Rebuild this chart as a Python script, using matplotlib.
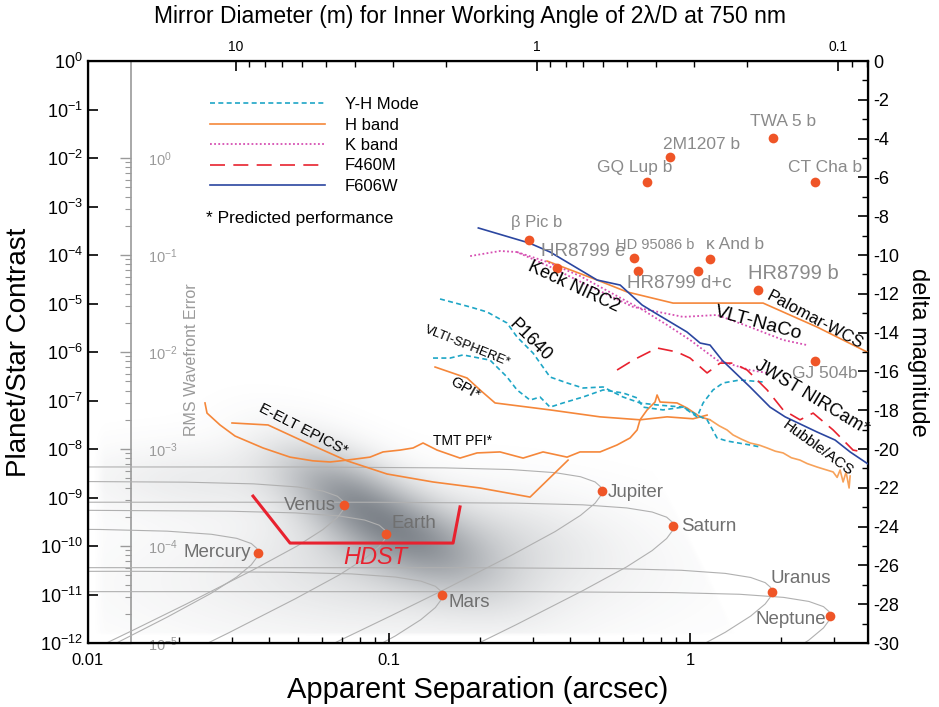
import numpy as np
import matplotlib
matplotlib.use("Agg")
import matplotlib.pyplot as plt
from matplotlib.lines import Line2D

plt.rcParams['font.family'] = ['Liberation Sans', 'DejaVu Sans']
plt.rcParams['mathtext.default'] = 'regular'
plt.rcParams['xtick.direction'] = 'in'
plt.rcParams['ytick.direction'] = 'in'

# ---- instrument contrast curves (separation in arcsec, contrast) ----
F606W_SEP = [0.198, 0.292, 0.343, 0.491, 0.586, 0.693, 0.765, 0.977, 1.080, 1.165,
             1.277, 1.582, 1.844, 2.069, 2.642, 3.032, 3.401, 3.903]
F606W_CON = [3.61e-4, 1.77e-4, 1.15e-4, 3.05e-5, 2.40e-5, 9.3e-6, 6.4e-6, 2.58e-6, 1.53e-6, 1.39e-6,
             6.8e-7, 1.90e-7, 7.3e-8, 4.6e-8, 2.24e-8, 1.53e-8, 8.7e-9, 4.9e-9]

KECK_H_SEP = [0.335, 0.491, 0.618, 0.878, 1.748, 2.642, 3.873]
KECK_H_CON = [7.5e-5, 3.05e-5, 1.73e-5, 1.02e-5, 1.02e-5, 3.27e-6, 1.0e-6]

NACO_K_SEP = [0.186, 0.234, 0.266, 0.343, 0.441, 0.647, 0.948, 1.229, 1.582, 2.037, 2.447]
NACO_K_CON = [9.5e-5, 1.21e-4, 1.15e-4, 5.7e-5, 2.65e-5, 8.5e-6, 5.3e-6, 5.8e-6, 3.27e-6, 1.77e-6, 1.39e-6]

KECK_K_SEP = [0.266, 0.335, 0.431, 0.698, 0.839, 1.0, 1.229, 1.582, 1.803]
KECK_K_CON = [1.15e-4, 7.2e-5, 3.69e-5, 7.3e-6, 3.6e-6, 1.77e-6, 6.8e-7, 4.25e-7, 3.7e-7]

F460M_SEP = [0.572, 0.647, 0.777, 0.905, 1.0, 1.139, 1.258, 1.389, 1.547, 1.803, 2.037,
             2.319, 2.563, 2.987, 3.479, 3.756]
F460M_CON = [4.25e-7, 6.8e-7, 1.21e-6, 1.0e-6, 7.5e-7, 3.7e-7, 5.9e-7, 5.9e-7, 4.25e-7, 1.65e-7, 6.4e-8,
             4.0e-8, 5.5e-8, 2.47e-8, 9.5e-9, 8.7e-9]

P1640_SEP = [0.1477, 0.1858, 0.2116, 0.2466, 0.2662, 0.3009, 0.3426, 0.3903, 0.441, 0.514,
             0.599, 0.682, 0.777, 0.948, 1.055, 1.105, 1.192, 1.287, 1.466, 1.748]
P1640_CON = [1.24e-5, 8.5e-6, 6.7e-6, 3.96e-6, 2.04e-6, 9.5e-7, 3.05e-7, 2.30e-7, 1.81e-7, 1.90e-7,
             1.18e-7, 8.9e-8, 8.1e-8, 7.3e-8, 4.6e-8, 8.9e-8, 1.65e-7, 2.30e-7, 2.65e-7, 2.41e-7]

SPHERE_SEP = [0.1400, 0.1595, 0.1761, 0.2165, 0.2466, 0.2662, 0.2941, 0.3174, 0.3426, 0.3785,
              0.441, 0.514, 0.599, 0.667, 0.698, 0.813, 0.948, 1.055, 1.139, 1.229, 1.327, 1.582, 1.708]
SPHERE_CON = [7.5e-7, 7.5e-7, 8.7e-7, 6.8e-7, 3.05e-7, 1.65e-7, 1.02e-7, 1.18e-7, 7.3e-8, 8.9e-8,
              1.18e-7, 1.65e-7, 1.43e-7, 1.13e-7, 7.3e-8, 6.4e-8, 7.3e-8, 5.0e-8, 4.0e-8, 1.69e-8,
              1.46e-8, 1.21e-8, 1.10e-8]

GPI_SEP = [0.1422, 0.1816, 0.2006, 0.2250, 0.3426, 0.5023, 0.682, 0.839, 1.023, 1.139]
GPI_CON = [4.9e-7, 2.91e-7, 1.65e-7, 8.9e-8, 6.4e-8, 4.6e-8, 4.0e-8, 4.6e-8, 4.2e-8, 5.0e-8]

TMT_SEP = [0.02447, 0.02485, 0.02745, 0.03079, 0.03815, 0.04689, 0.05591, 0.06368, 0.07253, 0.08647,
           0.0955, 0.1088, 0.1202, 0.1297, 0.1444, 0.1721, 0.1961, 0.2337, 0.2788, 0.3248,
           0.3903, 0.431, 0.5023, 0.572, 0.632, 0.667, 0.682, 0.720, 0.765, 0.777,
           0.795, 0.905, 0.977, 1.080, 1.165]
TMT_CON = [8.9e-8, 5.5e-8, 3.13e-8, 1.85e-8, 1.05e-8, 6.8e-9, 5.7e-9, 5.4e-9, 5.9e-9, 6.8e-9,
           8.7e-9, 9.5e-9, 1.05e-8, 1.33e-8, 9.5e-9, 6.5e-9, 8.3e-9, 8.7e-9, 6.5e-9, 8.7e-9,
           6.8e-9, 8.7e-9, 8.7e-9, 1.21e-8, 1.69e-8, 2.47e-8, 4.0e-8, 6.4e-8, 9.3e-8, 1.30e-7,
           9.3e-8, 8.9e-8, 7.0e-8, 4.6e-8, 4.0e-8]
# noisy outer part of the same curve
TMT_TAIL_SEP = [1.165, 1.25, 1.327, 1.389, 1.48, 1.582, 1.70, 1.803, 1.92, 2.037, 2.17,
                2.319, 2.45, 2.642, 2.80, 2.987, 3.08, 3.150, 3.224, 3.298, 3.375, 3.401]
TMT_TAIL_CON = [4.0e-8, 3.0e-8, 2.47e-8, 1.95e-8, 1.6e-8, 1.33e-8, 1.2e-8, 1.05e-8, 9.0e-9, 8.3e-9, 6.6e-9,
                5.9e-9, 5.0e-9, 4.25e-9, 3.8e-9, 3.36e-9, 2.6e-9, 3.69e-9, 2.09e-9, 3.36e-9, 1.57e-9, 2.77e-9]

EELT_SEP = [0.03009, 0.03963, 0.0534, 0.07253, 0.0985, 0.1400, 0.2006, 0.2941, 0.3933]
EELT_CON = [3.44e-8, 3.13e-8, 1.33e-8, 5.7e-9, 3.05e-9, 2.09e-9, 1.57e-9, 1.02e-9, 5.9e-9]

HDST_SEP = [0.03533, 0.04689, 0.1632, 0.1721]
HDST_CON = [1.07e-9, 1.15e-10, 1.15e-10, 6.4e-10]

# ---- known companions ----
EXO_NAMES = ["GQ Lup b", "2M1207 b", "TWA 5 b", "CT Cha b", "\u03b2 Pic b", "HR8799 e",
             "HD 95086 b", "HR8799 d+c", "", "\u03ba And b", "HR8799 b", "GJ 504b"]
EXO_SEP = [0.72, 0.858, 1.88, 2.60, 0.292, 0.361, 0.652, 0.672, 1.06, 1.165, 1.68, 2.60]
EXO_CON = [3.2e-3, 1.05e-2, 2.6e-2, 3.2e-3, 2.04e-4, 5.4e-5, 8.7e-5, 4.7e-5, 4.7e-5, 8.3e-5, 1.9e-5, 6.5e-7]
EXO_OFFSET = [(-12, 15), (32, 12), (10, 16), (10, 15), (7, 17), (26, 16),
              (21, 13), (41, -13), (0, 0), (25, 14), (35, 16), (10, -12)]
EXO_SIZE = [12.5, 12.5, 12.5, 12.5, 12, 13.5, 10.5, 13.5, 12, 12.5, 14.5, 12.5]

# ---- solar system planets at 10 pc (max elongation) ----
SOLAR_NAMES = ["Mercury", "Venus", "Earth", "Mars", "Jupiter", "Saturn", "Uranus", "Neptune"]
SOLAR_SEP = [0.0367, 0.0709, 0.0977, 0.150, 0.509, 0.88, 1.87, 2.92]
SOLAR_CON = [7.3e-11, 6.9e-10, 1.74e-10, 9.6e-12, 1.36e-9, 2.55e-10, 1.14e-11, 3.65e-12]
SOLAR_OFFSET = [(-41, 0), (-34, 0), (28, 11), (27, -7), (34, -1), (35, 0), (29, 13), (-39, -4)]

# orbit shape relative to max elongation point (sep fraction, brightness factor)
ORBIT_FRAC = [0.001, 0.1, 0.3, 0.5, 0.7, 0.85, 0.95, 0.99, 0.998, 1.0,
              0.998, 0.99, 0.95, 0.85, 0.7, 0.5, 0.3, 0.2, 0.1]
ORBIT_PHASE = [3.14, 3.13, 3.00, 2.77, 2.39, 1.97, 1.54, 1.23, 1.10, 1.0,
               0.90, 0.79, 0.56, 0.315, 0.146, 0.047, 0.0093, 0.0027, 0.00034]

ORANGE = '#f5873a'
ORANGE_LT = '#f7a25a'
CYAN = '#1ea6c6'
PINK = '#d64fb2'
RED = '#e8222f'
BLUE = '#2b46a0'
DOT = '#ef5527'
GREY_TXT = '#8a8a8a'

fig = plt.figure(figsize=(9.39, 7.07), dpi=100)
rect = [88/939, 1 - 643/707, 780/939, 582/707]

# background shading (blurred yield region)
bg = fig.add_axes(rect, zorder=-1)
fy, fx = np.mgrid[0:1:300j, 0:1:400j]
px = 88 + fx*780
py = 643 - fy*582
dx, dy = px - 360, py - 505
u = dx*0.86 + dy*0.51
v = -dx*0.51 + dy*0.86
su = np.where(u < 0, 85, 120)
dens = (0.55*np.exp(-(u/su)**2 - (v/38)**2)
        + 0.20*np.exp(-((px-440)/140)**2 - ((py-545)/50)**2)
        + 0.10*np.exp(-((px-200)/120)**2 - ((py-480)/35)**2)
        + 0.10*np.exp(-((px-380)/260)**2 - ((py-585)/65)**2))
mask = (np.clip((663 + (py-480)*0.49 - px)/6, 0, 1) * np.clip((636 - py)/2, 0, 1)
        * np.clip((px - 92)/12, 0, 1))
rgba = np.zeros(dens.shape + (4,))
rgba[..., 0], rgba[..., 1], rgba[..., 2] = 0.27, 0.30, 0.34
rgba[..., 3] = np.clip(dens*mask, 0, 0.75)
bg.imshow(rgba, extent=(0, 1, 0, 1), origin='lower', aspect='auto', interpolation='bilinear')
bg.axis('off')

ax = fig.add_axes(rect, zorder=1)
ax.patch.set_visible(False)
ax.set_xscale('log')
ax.set_yscale('log')

frac = np.array(ORBIT_FRAC)
phase = np.array(ORBIT_PHASE)
for s, c in zip(SOLAR_SEP, SOLAR_CON):
    ax.plot(s*frac, c*phase, color='#b0b0b0', lw=0.8, zorder=1)

ax.plot(TMT_SEP, TMT_CON, color=ORANGE, lw=1.2, zorder=3)
ax.plot(TMT_TAIL_SEP, TMT_TAIL_CON, color=ORANGE_LT, lw=1.2, zorder=3)
ax.plot(EELT_SEP, EELT_CON, color=ORANGE, lw=1.2, zorder=3)
ax.plot(GPI_SEP, GPI_CON, color=ORANGE, lw=1.2, zorder=3)
ax.plot(KECK_H_SEP, KECK_H_CON, color=ORANGE, lw=1.2, zorder=3)
ax.plot(P1640_SEP, P1640_CON, color=CYAN, lw=1.2, dashes=(3, 2), zorder=3)
ax.plot(SPHERE_SEP, SPHERE_CON, color=CYAN, lw=1.2, dashes=(3, 2), zorder=3)
ax.plot(NACO_K_SEP, NACO_K_CON, color=PINK, lw=1.3, dashes=(1, 1.3), zorder=3)
ax.plot(KECK_K_SEP, KECK_K_CON, color=PINK, lw=1.3, dashes=(1, 1.3), zorder=3)
ax.plot(F460M_SEP, F460M_CON, color=RED, lw=1.2, dashes=(9, 5), zorder=3)
ax.plot(F606W_SEP, F606W_CON, color=BLUE, lw=1.2, zorder=3)
ax.plot(HDST_SEP, HDST_CON, color=RED, lw=2.2, zorder=4)

ax.plot(EXO_SEP, EXO_CON, 'o', color=DOT, ms=7, mec='none', zorder=5)
ax.plot(SOLAR_SEP, SOLAR_CON, 'o', color=DOT, ms=7, mec='none', zorder=5)

for name, s, c, off, fs in zip(EXO_NAMES, EXO_SEP, EXO_CON, EXO_OFFSET, EXO_SIZE):
    if name:
        ax.annotate(name, (s, c), xytext=off, textcoords='offset pixels', ha='center', va='center',
                    fontsize=fs, color=GREY_TXT, zorder=6)
for name, s, c, off in zip(SOLAR_NAMES, SOLAR_SEP, SOLAR_CON, SOLAR_OFFSET):
    ax.annotate(name, (s, c), xytext=off, textcoords='offset pixels', ha='center', va='center',
                fontsize=13.5, color='#707070', zorder=6)

# curve labels
curve_labels = [
    ("Keck NIRC2", 0.412, 2.19e-5, -25, 13),
    ("Palomar-WCS", 2.60, 4.6e-6, -28, 12),
    ("VLT-NaCo", 1.68, 3.96e-6, -15, 14),
    ("JWST NIRCam*", 2.54, 1.13e-7, -31, 13),
    ("Hubble/ACS", 2.66, 1.05e-8, -36, 11),
    ("P1640", 0.294, 1.77e-6, -45, 13),
    ("VLTI-SPHERE*", 0.1816, 1.33e-6, -22, 9.5),
    ("GPI*", 0.179, 1.73e-7, -30, 11),
    ("E-ELT EPICS*", 0.0518, 2.47e-8, -27, 11),
    ("TMT PFI*", 0.1761, 1.46e-8, 0, 10),
]
for txt, s, c, rot, fs in curve_labels:
    ax.text(s, c, txt, rotation=rot, rotation_mode='anchor', ha='center', va='center',
            fontsize=fs, color='black', zorder=6)
ax.text(0.0898, 5.9e-11, "HDST", color=RED, fontsize=17, style='italic',
        ha='center', va='center', zorder=6)
ax.text(0.022, 6.8e-7, "RMS Wavefront Error", rotation=90, color='#9a9a9a', fontsize=11.5,
        ha='center', va='center')

ax.set_xlim(0.01, 3.9)
ax.set_ylim(1e-12, 1)
ax.set_xticks([0.01, 0.1, 1])
ax.set_xticklabels(['0.01', '0.1', '1'])
ax.set_yticks([10.0**-k for k in range(13)])
ax.yaxis.set_minor_locator(matplotlib.ticker.NullLocator())
ax.tick_params(axis='both', which='major', length=7, width=1.2, labelsize=13)
ax.tick_params(axis='x', which='major', labelsize=12, pad=7)
ax.tick_params(axis='x', which='minor', length=4, width=1)
for sp in ax.spines.values():
    sp.set_linewidth(1.6)
ax.set_xlabel("Apparent Separation (arcsec)", fontsize=21, labelpad=6)
ax.set_ylabel("Planet/Star Contrast", fontsize=20, labelpad=6)

# RMS wavefront error axis (contrast ~ wavefront^2)
rms = ax.secondary_yaxis(0.0552, functions=(lambda c: 10*np.sqrt(c), lambda r: (r/10.0)**2))
rms.set_yticks([10.0**-k for k in range(6)])
rms.yaxis.set_minor_locator(matplotlib.ticker.FixedLocator(
    [k*10.0**-n for n in range(1, 6) for k in range(2, 10)]))
rms.tick_params(which='both', direction='out', left=True, right=False, labelleft=False,
                labelright=True, colors='#9a9a9a', labelsize=10.5, pad=4)
rms.tick_params(which='major', length=8, width=1)
rms.tick_params(which='minor', length=4, width=0.8)
rms.spines['right'].set_visible(False)
for sp in rms.spines.values():
    sp.set_color('#9a9a9a')
    sp.set_linewidth(1.2)

# right axis: delta magnitude
axr = ax.twinx()
axr.set_ylim(-30, 0)
axr.yaxis.set_major_locator(matplotlib.ticker.MultipleLocator(2))
axr.yaxis.set_minor_locator(matplotlib.ticker.MultipleLocator(1))
axr.yaxis.set_major_formatter(matplotlib.ticker.FuncFormatter(lambda v, p: f"{v:.0f}"))
axr.tick_params(which='major', length=7, width=1.2, labelsize=13)
axr.tick_params(which='minor', length=4, width=1)
axr.set_ylabel("delta magnitude", fontsize=17, rotation=270, labelpad=22)

# top axis: mirror diameter for IWA = 2 lambda/D at 750 nm
axt = ax.twiny()
axt.set_xscale('log')
axt.set_xlim(0.3094/0.01, 0.3094/3.9)
axt.set_xticks([10, 1, 0.1])
axt.set_xticklabels(['10', '1', '0.1'])
axt.xaxis.set_minor_locator(matplotlib.ticker.FixedLocator(
    [k for k in range(2, 10)] + [k/10 for k in range(2, 10)] + [0.08, 0.09]))
axt.xaxis.set_minor_formatter(matplotlib.ticker.NullFormatter())
axt.tick_params(which='major', length=7, width=1.2, labelsize=10, pad=5)
axt.tick_params(which='minor', length=4, width=1)
fig.text(0.5, 1 - 17/707, "Mirror Diameter (m) for Inner Working Angle of 2\u03bb/D at 750 nm",
         ha='center', va='center', fontsize=16.5)

# legend
handles = [Line2D([], [], color=CYAN, lw=1.2, dashes=(3, 2)),
           Line2D([], [], color=ORANGE, lw=1.2),
           Line2D([], [], color=PINK, lw=1.3, dashes=(1, 1.3)),
           Line2D([], [], color=RED, lw=1.2, dashes=(9, 5)),
           Line2D([], [], color=BLUE, lw=1.2)]
labels = ["Y-H Mode", "H band", "K band", "F460M", "F606W"]
ax.legend(handles, labels, loc='upper left', bbox_to_anchor=((210-88)/780, (643-97)/582),
          frameon=False, fontsize=12, handlelength=6.9, handletextpad=1.2, labelspacing=0.33,
          borderpad=0, borderaxespad=0)
ax.text((206-88)/780, (643-219)/582, "* Predicted performance", transform=ax.transAxes,
        fontsize=12.5, va='center', ha='left')

fig.savefig("out.png", dpi=100)
